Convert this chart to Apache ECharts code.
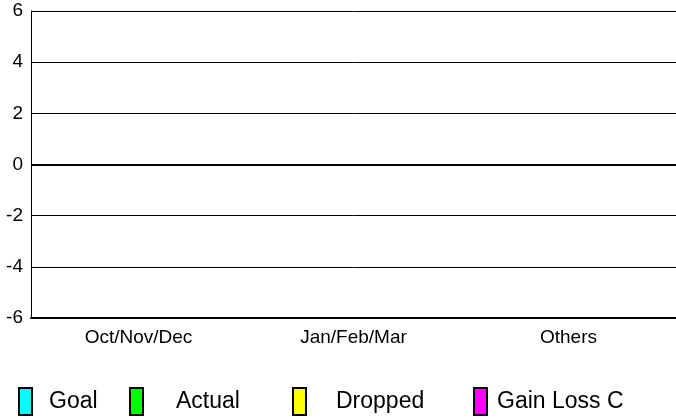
<!DOCTYPE html>
<html>
<head>
<meta charset="utf-8">
<script src="https://cdn.jsdelivr.net/npm/echarts@6/dist/echarts.min.js"></script>
<style>
html,body{margin:0;padding:0;background:#fff;}
#c{width:676px;height:419px;}
</style>
</head>
<body>
<div id="c"></div>
<script>
var categories = ['Oct/Nov/Dec', 'Jan/Feb/Mar', 'Others'];
var seriesNames = ['Goal', 'Actual', 'Dropped', 'Gain Loss C'];
var goalValues = [0, 0, 0];
var actualValues = [0, 0, 0];
var droppedValues = [0, 0, 0];
var gainLossValues = [0, 0, 0];
var yTicks = [-6, -4, -2, 0, 2, 4, 6];

var colors = ['#00FFFF', '#00FF00', '#FFFF00', '#FF00FF'];
var seriesData = [goalValues, actualValues, droppedValues, gainLossValues];
var legendLeft = [18, 129, 292, 473];
var legendPad = [12, 28, 25, 5];
var font = 'Liberation Sans, Arial, sans-serif';

var chart = echarts.init(document.getElementById('c'));
var legends = seriesNames.map(function (n, i) {
  return {
    data: [n],
    left: legendLeft[i],
    top: 387,
    padding: 0,
    itemWidth: 13,
    itemHeight: 27,
    icon: 'rect',
    selectedMode: false,
    itemStyle: {borderColor: '#000', borderWidth: 2},
    textStyle: {fontFamily: font, fontSize: 23, color: '#000', padding: [0, 0, 0, legendPad[i]]}
  };
});

chart.setOption({
  animation: false,
  backgroundColor: '#fff',
  grid: {left: 31, right: 0, top: 11, bottom: 101, containLabel: false},
  legend: legends,
  xAxis: {
    type: 'category',
    data: categories,
    boundaryGap: true,
    axisLine: {onZero: false, lineStyle: {color: '#000', width: 2}},
    axisTick: {show: false},
    axisLabel: {fontFamily: font, fontSize: 19, color: '#000', margin: 10}
  },
  yAxis: {
    type: 'value',
    min: yTicks[0],
    max: yTicks[yTicks.length - 1],
    interval: 2,
    axisLine: {show: true, lineStyle: {color: '#000', width: 1}},
    axisTick: {show: false},
    axisLabel: {fontFamily: font, fontSize: 19, color: '#000', margin: 8},
    splitLine: {show: true, lineStyle: {color: '#000', width: 1}}
  },
  series: seriesNames.map(function (n, i) {
    var s = {
      name: n,
      type: 'bar',
      data: seriesData[i],
      itemStyle: {color: colors[i], borderColor: '#000', borderWidth: 0}
    };
    if (i === 0) {
      s.markLine = {
        silent: true,
        symbol: 'none',
        label: {show: false},
        lineStyle: {color: '#000', width: 2, type: 'solid'},
        data: [{yAxis: 0}]
      };
    }
    return s;
  })
});
</script>
</body>
</html>
